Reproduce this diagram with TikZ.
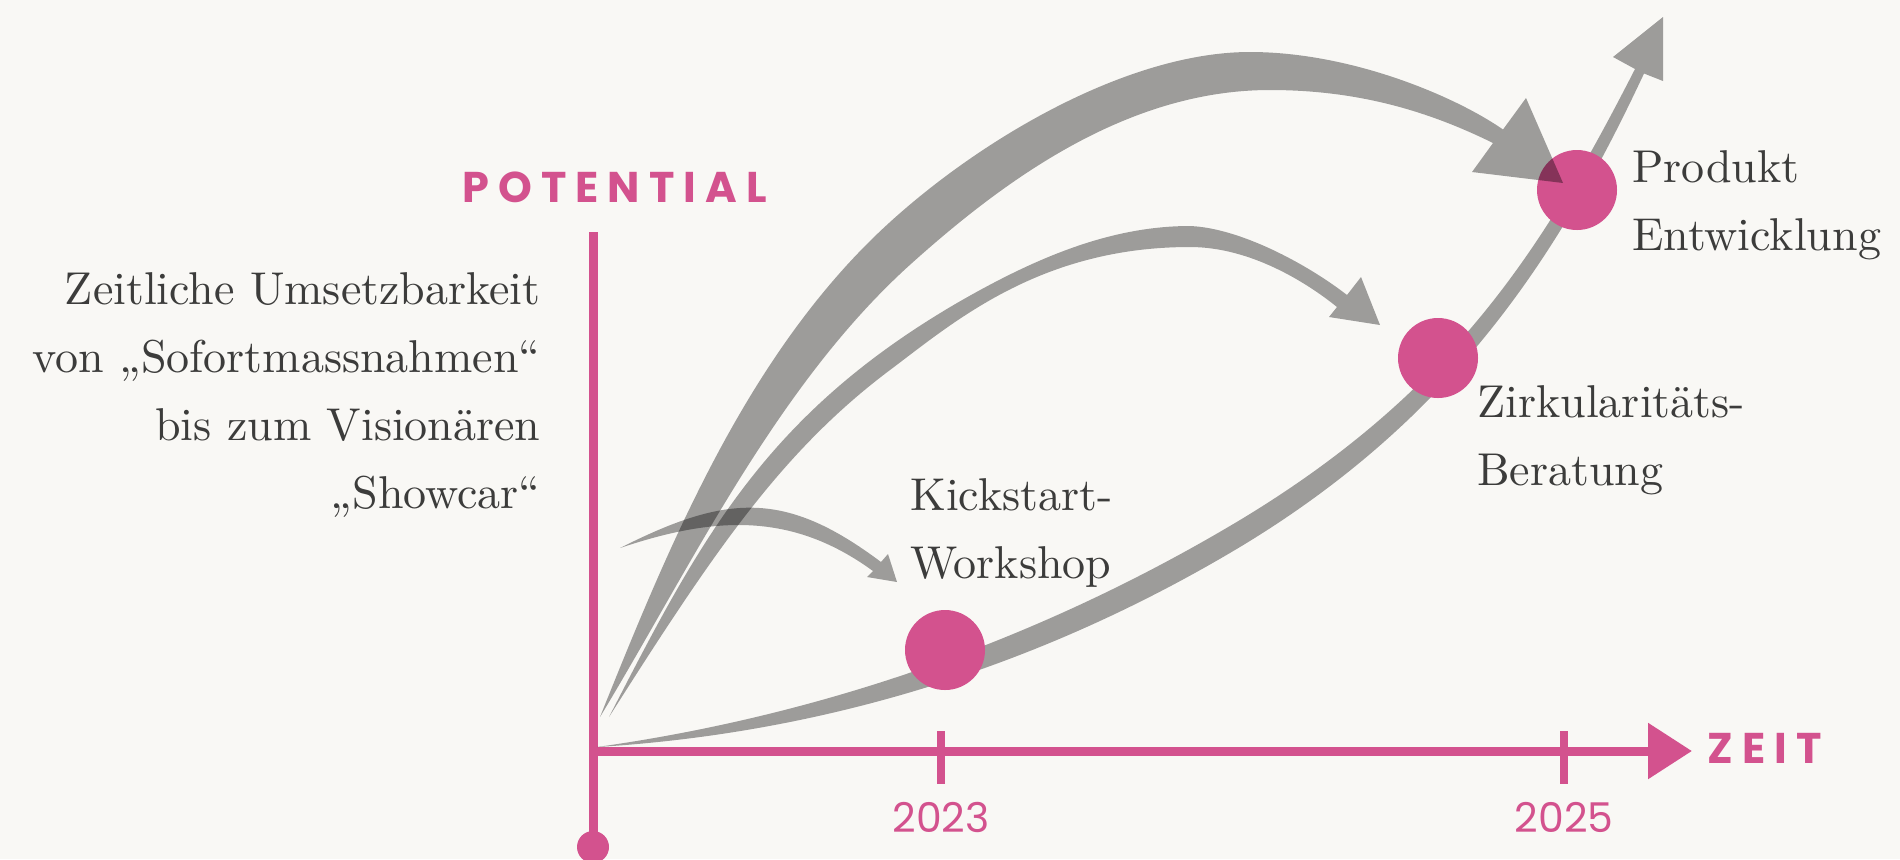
\documentclass[tikz,border=0pt]{standalone}
\usepackage{fontspec}
\newfontfamily\stagefont{lmroman10-regular.otf}
\newfontfamily\axisfont{Poppins}
\newfontfamily\axiscaps{Poppins}[LetterSpace=21]
\usetikzlibrary{arrows.meta}

\definecolor{paper}{HTML}{F9F8F5}
\definecolor{rose}{HTML}{D3528E}
\definecolor{ink}{HTML}{3C3C3B}

\begin{document}
\begin{tikzpicture}[x=0.5pt, y=-0.5pt,
    every node/.style={inner sep=0pt, text=ink},
    stagetext/.style={font=\stagefont\fontsize{23}{34}\selectfont, align=left, anchor=base west},
    yeartext/.style={font=\axisfont\fontsize{20.5}{24}\selectfont, text=rose, anchor=base},
    axiscap/.style={font=\axiscaps\bfseries\fontsize{21.5}{24}\selectfont, text=rose, anchor=base west},
    dot/.style={circle, fill=rose, minimum size=40pt},
    swoosh/.style={fill=black, fill opacity=0.37},
    axis/.style={rose, line width=4.5pt},
    yeartick/.style={rose, line width=3.75pt}]

    \useasboundingbox (0,0) rectangle (1900,859);
    \fill[paper] (0,0) rectangle (1900,859);

    % --- Axes ---
    \coordinate (origin) at (593,751);
    \coordinate (ytop) at (593,232);
    \coordinate (ybot) at (593,847);
    \coordinate (xend) at (1692,751);
    \draw[axis] (ytop) -- (ybot);
    \fill[rose] (ybot) circle (8pt);
    \draw[axis, -{Triangle[length=22pt, width=27pt]}] (origin) -- (xend);
    \draw[yeartick] (941,731) -- (941,784);
    \draw[yeartick] (1564,731) -- (1564,784);
    \node[yeartext] (y2023) at (941,832) {2023};
    \node[yeartext] (y2025) at (1564,832) {2025};
    \node[axiscap] (zeit) at (1707,763) {ZEIT};
    \node[axiscap] (potential) at (462,202) {POTENTIAL};

    % --- Growth curve (under the dots) ---
    \fill[swoosh] (597,747) .. controls (825,715) and (1043,638) .. (1240,520)
        .. controls (1454,391) and (1544,247) .. (1635,69)
        -- (1613,57) -- (1663,17) -- (1663,81) -- (1644,73.5)
        .. controls (1559,255) and (1454,418) .. (1240,547)
        .. controls (1043,665) and (827,733) .. (597,747) -- cycle;

    % --- Stages ---
    \node[dot] (kick) at (945,650) {};
    \node[dot] (zirk) at (1438,358) {};
    \node[dot] (prod) at (1577,190) {};

    % --- Jumps from the origin ---
    % Kickstart
    \fill[swoosh] (620,548) .. controls (727,494) and (785,490) .. (881,562)
        -- (888,554) -- (897,582) -- (867,577) -- (873,571)
        .. controls (792,512) and (715,516) .. (620,548) -- cycle;
    % Zirkularitaet
    \fill[swoosh] (609,717) .. controls (700,540) and (765,415) .. (957,303)
        .. controls (1035,258) and (1110,226) .. (1190,226)
        .. controls (1240,228) and (1307,264) .. (1347,295)
        -- (1361,277) -- (1380,325) -- (1329,317) -- (1337,307)
        .. controls (1306,282) and (1250,247) .. (1190,247)
        .. controls (1040,247) and (954,322) .. (890,370)
        .. controls (780,452.5) and (712,555) .. (609,717) -- cycle;
    % Produkt
    \fill[swoosh] (600,717) .. controls (667,550) and (741,370) .. (868,243)
        .. controls (960,151) and (1120,52) .. (1250,52)
        .. controls (1350,52) and (1454,95.5) .. (1503,129.5)
        -- (1526,98) -- (1563,183) -- (1472,172) -- (1493,143)
        .. controls (1430,112) and (1360,90) .. (1270,90)
        .. controls (1130,90) and (1009,176) .. (912,263)
        .. controls (778,383) and (693,563) .. (600,717) -- cycle;

    % --- Labels (anchored at the last line) ---
    \node[stagetext, align=right, anchor=base east] (scale) at (541,508)
        {Zeitliche Umsetzbarkeit\\von „Sofortmassnahmen“\\bis zum Visionären\\„Showcar“};
    \node[stagetext] (kicklabel) at (910,578) {Kickstart-\\Workshop};
    \node[stagetext] (zirklabel) at (1477,485) {Zirkularitäts-\\Beratung};
    \node[stagetext] (prodlabel) at (1632,250) {Produkt\\Entwicklung};

\end{tikzpicture}
\end{document}
